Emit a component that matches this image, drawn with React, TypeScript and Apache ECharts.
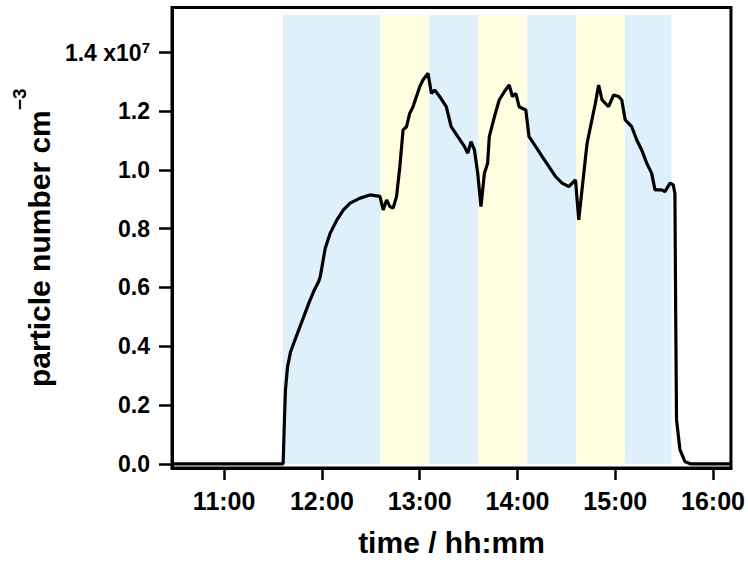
import React, { useEffect, useRef } from 'react';
import * as echarts from 'echarts';

// time in minutes since midnight
const timeMinutes = [
  628, 696.2, 697.0, 697.6, 698.9, 700.7, 702.7, 705.8, 708.8, 711.9, 714.9, 718.0,
  719.0, 722.0, 725.1, 729.2, 733.2, 737.3, 743.4, 749.5, 755.6, 757.6, 759.7, 761.7,
  763.7, 765.8, 767.8, 769.8, 771.9, 773.9, 775.9, 778.0, 780.0, 782.0, 785.1, 787.2,
  789.2, 792.2, 796.3, 799.3, 803.4, 807.5, 809.5, 811.5, 813.6, 815.6, 817.6, 819.7,
  821.7, 822.7, 825.8, 828.8, 831.9, 834.9, 836.9, 839.0, 841.0, 845.1, 847.1, 851.2,
  855.2, 859.3, 863.4, 867.4, 871.5, 875.6, 877.6, 880.7, 882.7, 884.8, 887.8, 889.8,
  891.9, 895.9, 899.0, 902.0, 904.0, 906.1, 910.1, 913.2, 916.2, 919.3, 922.3, 924.4,
  928.4, 930.5, 933.6, 935.6, 936.6, 937.1, 937.6, 939.7, 942.7, 946, 971,
];
// particle number concentration, units of 1e7 cm^-3
const particleE7 = [
  0, 0, 0.15, 0.25, 0.33, 0.38, 0.41, 0.456, 0.5, 0.546, 0.586, 0.62,
  0.637, 0.733, 0.785, 0.83, 0.864, 0.887, 0.904, 0.915, 0.91, 0.864, 0.898, 0.875,
  0.87, 0.91, 1.01, 1.136, 1.147, 1.193, 1.215, 1.25, 1.283, 1.306, 1.329, 1.26,
  1.272, 1.25, 1.215, 1.147, 1.113, 1.079, 1.057, 1.096, 1.068, 0.989, 0.875, 0.989,
  1.023, 1.113, 1.18, 1.238, 1.266, 1.289, 1.25, 1.26, 1.215, 1.204, 1.113, 1.079,
  1.045, 1.011, 0.977, 0.955, 0.943, 0.966, 0.83, 0.989, 1.09, 1.147, 1.227, 1.289,
  1.238, 1.215, 1.255, 1.25, 1.238, 1.17, 1.147, 1.102, 1.068, 1.023, 0.989, 0.932,
  0.932, 0.926, 0.955, 0.949, 0.92, 0.5, 0.15, 0.048, 0.008, 0, 0,
];

const xTickMinutes = [660, 720, 780, 840, 900, 960];
const yTickValues = [0, 0.2, 0.4, 0.6, 0.8, 1.0, 1.2, 1.4];

const bandStart = [696, 756, 786, 816, 846, 876, 906];
const bandEnd = [756, 786, 816, 846, 876, 906, 934.5];
const bandKind = ['blue', 'yellow', 'blue', 'yellow', 'blue', 'yellow', 'blue'];
const bandTop = 1.527;

const FONT = "'Liberation Sans', Arial, Helvetica, sans-serif";
const BAND_COLORS: Record<string, string> = { blue: '#ddf0fc', yellow: '#fefee0' };

function fmtTime(m: number): string {
  const h = Math.floor(m / 60);
  const mm = Math.round(m - h * 60);
  return h + ':' + (mm < 10 ? '0' : '') + mm;
}

export default function App() {
  const ref = useRef<HTMLDivElement>(null);
  useEffect(() => {
    const chart = echarts.init(ref.current!, null, { renderer: 'svg' });
    const lineData = timeMinutes.map((t, i) => [t, particleE7[i]]);
    const areas = bandStart.map((s, i) => [
      { xAxis: s, yAxis: 0, itemStyle: { color: BAND_COLORS[bandKind[i]] } },
      { xAxis: bandEnd[i], yAxis: bandTop },
    ]);
    chart.setOption({
      animation: false,
      backgroundColor: '#fff',
      grid: {
        left: 172,
        top: 7.5,
        right: 14.7,
        bottom: 94,
        show: true,
        borderColor: '#000',
        borderWidth: 3,
        backgroundColor: 'transparent',
      },
      xAxis: {
        type: 'value',
        min: 628,
        max: 971,
        name: 'time / hh:mm',
        nameLocation: 'middle',
        nameGap: 59,
        nameTextStyle: { fontSize: 30, fontWeight: 'bold', fontFamily: FONT, color: '#000' },
        axisLine: { show: true, onZero: false, lineStyle: { color: '#000', width: 3 } },
        axisTick: { show: true, length: 12, lineStyle: { color: '#000', width: 2.5 }, customValues: xTickMinutes },
        axisLabel: {
          customValues: xTickMinutes,
          formatter: (v: number) => fmtTime(v),
          fontSize: 25,
          fontWeight: 'bold',
          fontFamily: FONT,
          color: '#000',
          margin: 20,
        },
        splitLine: { show: false },
      },
      yAxis: {
        type: 'value',
        min: -0.0143,
        max: 1.5527,
        name: '{m|particle number cm}{s|\u22123}',
        nameLocation: 'middle',
        nameRotate: 90,
        nameGap: 112,
        nameTextStyle: {
          fontSize: 30,
          fontWeight: 'bold',
          fontFamily: FONT,
          color: '#000',
          rich: {
            m: { fontSize: 30, fontWeight: 'bold', fontFamily: FONT, color: '#000', verticalAlign: 'bottom' },
            s: { fontSize: 19, fontWeight: 'bold', fontFamily: FONT, color: '#000', verticalAlign: 'bottom', padding: [0, 0, 25, 0] },
          },
        },
        axisLine: { show: true, onZero: false, lineStyle: { color: '#000', width: 3 } },
        axisTick: { show: true, length: 13, lineStyle: { color: '#000', width: 2.5 }, customValues: yTickValues },
        axisLabel: {
          customValues: yTickValues,
          formatter: (v: number) =>
            Math.abs(v - 1.4) < 1e-9 ? '{m|1.4 x10}{s|7}' : v.toFixed(1),
          fontSize: 23,
          fontWeight: 'bold',
          fontFamily: FONT,
          color: '#000',
          margin: 22,
          rich: {
            m: { fontSize: 23, fontWeight: 'bold', fontFamily: FONT, color: '#000', verticalAlign: 'bottom' },
            s: { fontSize: 15, fontWeight: 'bold', fontFamily: FONT, color: '#000', verticalAlign: 'bottom', padding: [0, 0, 9, 0] },
          },
        },
        splitLine: { show: false },
      },
      series: [
        {
          type: 'line',
          data: lineData,
          showSymbol: false,
          symbol: 'none',
          lineStyle: { color: '#000', width: 3.2 },
          z: 3,
          markArea: { silent: true, data: areas },
        },
      ],
    });
    return () => chart.dispose();
  }, []);
  return <div ref={ref} style={{ position: 'fixed', left: 0, top: 0, width: 748, height: 562 }} />;
}
